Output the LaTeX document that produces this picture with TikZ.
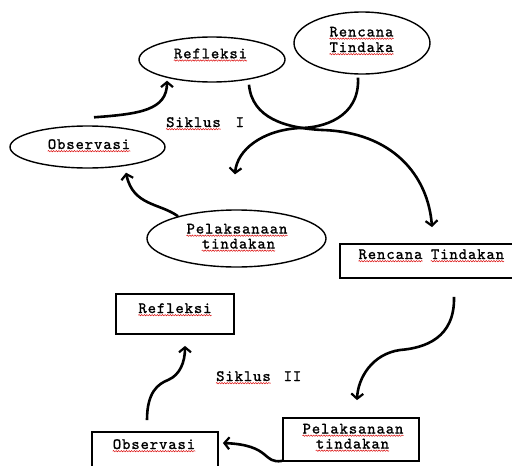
\documentclass[tikz,border=0pt]{standalone}
\usepackage{fontspec}
\usetikzlibrary{shapes.geometric,arrows.meta,decorations.pathmorphing}
\newfontfamily\cour{lmmono10-regular.otf}[LetterSpace=6,FakeBold=1.3]
\tikzset{
  ell/.style={ellipse,draw,line width=1.4pt,inner sep=0pt},
  box/.style={rectangle,draw,line width=1.8pt,inner sep=0pt},
  txt/.style={anchor=base,inner sep=0pt,text height=9pt,text depth=2pt,font=\cour\fontsize{15.8}{17}\selectfont},
  squig/.style={draw=red!85!black,line width=0.45pt,decorate,decoration={snake,amplitude=0.7pt,segment length=2.6pt}},
  flow/.style={line width=2.6pt,-{Straight Barb[length=5pt,width=12pt,line width=2.2pt]}}
}
\begin{document}
\begin{tikzpicture}[x=1pt,y=-1pt]
\useasboundingbox (0,0) rectangle (512,466);
% Siklus I
\node[ell,minimum width=146pt,minimum height=45pt] (e1) at (212,59.5) {};
\node[ell,minimum width=136pt,minimum height=62pt] (e2) at (362,43) {};
\node[ell,minimum width=155pt,minimum height=42pt] (e3) at (87.5,147) {};
\node[ell,minimum width=179pt,minimum height=57pt] (e4) at (236.5,238.5) {};
\node[txt] (t1) at (210.5,58.3) {Refleksi};
\node[txt] (t2) at (361.5,36.5) {Rencana};
\node[txt] (t3) at (361.5,52) {Tindaka};
\node[txt] (t4) at (89,149) {Observasi};
\node[txt,anchor=base west] (t5) at (166,127) {Siklus};
\node[txt,anchor=base west] (t5b) at (235.5,127) {I};
\node[txt] (t6) at (237,233.5) {Pelaksanaan};
\node[txt] (t7) at (238.5,248.5) {tindakan};
% Siklus II
\node[box,minimum width=174pt,minimum height=34pt] (r1) at (427,261) {};
\node[box,minimum width=118pt,minimum height=40pt] (r2) at (175,314) {};
\node[box,minimum width=136pt,minimum height=43pt] (r3) at (351,439.5) {};
\node[box,minimum width=126pt,minimum height=40pt] (r4) at (155,452) {};
\node[txt] (t8) at (390.5,259) {Rencana};
\node[txt] (t8b) at (467.5,259) {Tindakan};
\node[txt] (t9) at (175,313) {Refleksi};
\node[txt,anchor=base west] (t10) at (216,381) {Siklus};
\node[txt,anchor=base west] (t10b) at (283.5,381) {II};
\node[txt] (t11) at (353,433.5) {Pelaksanaan};
\node[txt] (t12) at (352.5,448.5) {tindakan};
\node[txt] (t13) at (154,449) {Observasi};
% spell-check underlines
\foreach \n in {t1,t2,t3,t4,t5,t6,t7,t8,t8b,t9,t10,t11,t12,t13}
  \draw[squig] ([yshift=-2.2pt]\n.base west) -- ([yshift=-2.2pt]\n.base east);
% arrows Siklus I
\draw[flow] ([shift={(6.5,-8)}]e3.north) .. controls (140,114) and (167,110) .. ([shift={(-45,-2)}]e1.south);
\draw[flow] ([shift={(37,2)}]e1.south) .. controls (252,118) and (285,128) .. (322,130)
  .. controls (392,132) and (428,175) .. ([shift={(5,-16)}]r1.north);
\draw[flow] ([shift={(-4,3)}]e2.south) .. controls (360,118) and (322,128) .. (300,128)
  .. controls (262,130) and (237,150) .. ([shift={(-1.5,-35)}]e4.north);
\draw[flow] ([shift={(-58.5,7)}]e4.north) .. controls (160,203) and (133,206) .. ([shift={(38.5,4)}]e3.south);
% arrows Siklus II
\draw[flow] ([shift={(27,18)}]r1.south) .. controls (455,338) and (425,348) .. (400,350)
  .. controls (372,354) and (358,378) .. ([shift={(6,-17)}]r3.north);
\draw[flow] ([shift={(0,-1)}]r3.south west) .. controls (262,464) and (272,445) .. ([shift={(4,-9)}]r4.east);
\draw[flow] ([shift={(-8,-11)}]r4.north) .. controls (147,392) and (158,384) .. (168,380)
  .. controls (180,375) and (185,362) .. ([shift={(10,11)}]r2.south);
\end{tikzpicture}
\end{document}
